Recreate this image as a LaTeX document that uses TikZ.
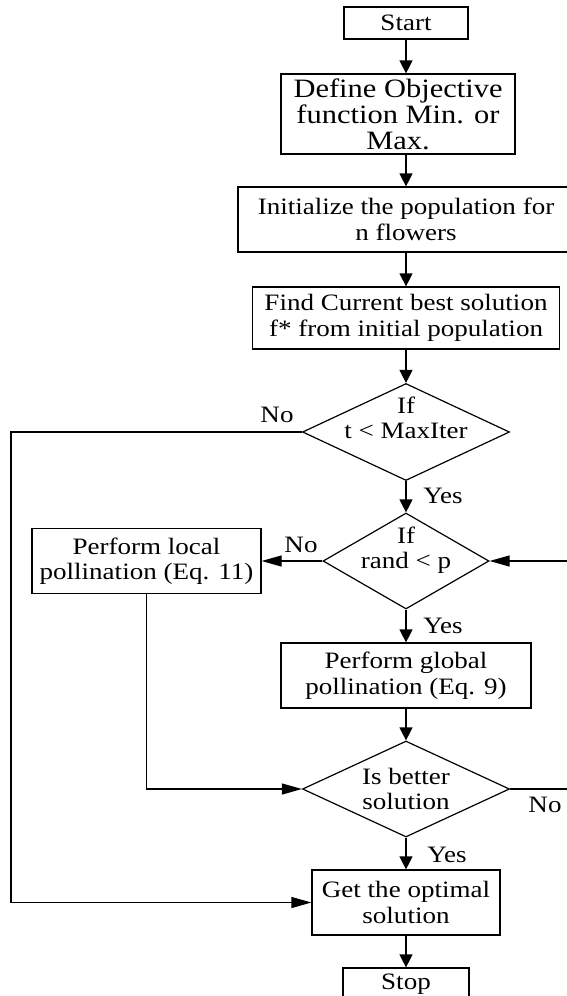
\documentclass[tikz,border=0pt]{standalone}
\usepackage{fontspec}
\setmainfont{Liberation Serif}[FakeStretch=1.15]
\usetikzlibrary{shapes.geometric,arrows.meta}
\begin{document}
\begin{tikzpicture}[x=1pt,y=-1pt,
  every node/.style={font=\fontsize{23.5}{25.5}\selectfont},
  stepbox/.style={draw, line width=1.2pt, inner sep=0pt, align=center},
  decision/.style={draw, diamond, line width=1.2pt, inner sep=0pt},
  ttext/.style={inner sep=0pt, align=center},
  lbl/.style={inner sep=0pt},
  link/.style={line width=1.2pt},
  varr/.style={link, -{Triangle[length=13pt,width=13pt]}},
  harr/.style={link, -{Triangle[length=20pt,width=11pt]}},
]
\useasboundingbox (0,0) rectangle (567,996);

% process boxes and decisions
\node[stepbox, minimum width=124pt, minimum height=32pt] (start) at (406,23) {Start};
\node[stepbox, minimum width=234pt, minimum height=80pt, font=\fontsize{26.5}{26}\selectfont] (define) at (398,114) {Define Objective\\function Min. or\\Max.};
\node[stepbox, minimum width=336pt, minimum height=65pt] (init) at (406,219.5) {Initialize the population for\\n flowers};
\node[stepbox, minimum width=307pt, minimum height=62pt] (find) at (406,318) {Find Current best solution\\f* from initial population};
\node[decision, minimum width=207pt, minimum height=97pt] (d1) at (406,432) {};
\node[ttext] (d1t) at (406,418) {If\\t < MaxIter};
\node[decision, minimum width=166pt, minimum height=96pt] (d2) at (406,561) {};
\node[ttext] (d2t) at (406,550) {If\\rand < p};
\node[stepbox, minimum width=229pt, minimum height=65pt] (local) at (146.5,561) {Perform local\\pollination (Eq. 11)};
\node[stepbox, minimum width=250pt, minimum height=65pt] (global) at (406,675.5) {Perform global\\pollination (Eq. 9)};
\node[decision, minimum width=207pt, minimum height=96pt] (d3) at (406,789) {};
\node[ttext] (d3t) at (406,789) {Is better\\solution};
\node[stepbox, minimum width=188pt, minimum height=65pt] (get) at (406,902.5) {Get the optimal\\solution};
\node[stepbox, minimum width=126pt, minimum height=32pt] (stop) at (406,984) {Stop};

% branch labels
\node[lbl] (no1) at (277,415) {No};
\node[lbl] (yes1) at (443,496) {Yes};
\node[lbl] (no2) at (301,545) {No};
\node[lbl] (yes2) at (443,626) {Yes};
\node[lbl] (no3) at (545,805) {No};
\node[lbl] (yes3) at (447,855) {Yes};

% routing columns for the side loops
\coordinate (lx) at (11,0);
\coordinate (rx) at (574,0);

% main flow
\draw[varr] (start.south) -- (start.south |- define.north);
\draw[varr] (define.south -| init.north) -- (init.north);
\draw[varr] (init) -- (find);
\draw[varr] (find) -- (d1);
\draw[varr] (d1) -- (d2);
\draw[varr] (d2) -- (global);
\draw[varr] (global) -- (d3);
\draw[varr] (d3) -- (get);
\draw[varr] (get) -- (stop);

% branches and loops
\draw[harr] (d2) -- (local);
\draw[harr] (d1.west) -- (d1.west -| lx) |- (get.west);
\draw[harr] (local.south) |- (d3.west);
\draw[harr] (d3.east) -- (d3.east -| rx) |- (d2.east);
\end{tikzpicture}
\end{document}
